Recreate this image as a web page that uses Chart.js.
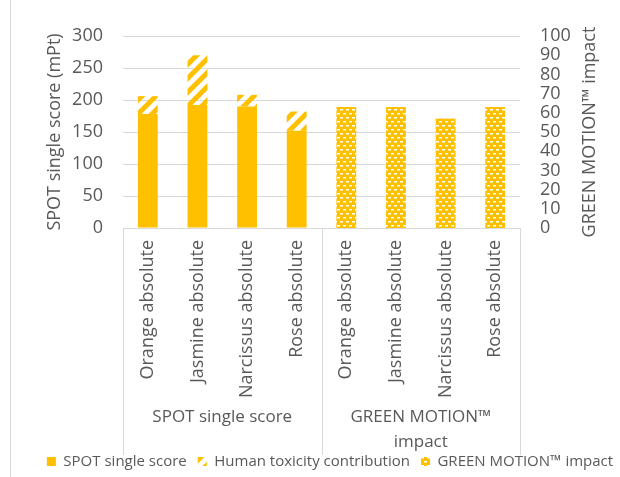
<!DOCTYPE html>
<html>
<head>
<meta charset="utf-8">
<script src="https://cdn.jsdelivr.net/npm/chart.js@4.4.1/dist/chart.umd.min.js"></script>
<style>
  html, body { margin: 0; padding: 0; background: #fff; }
  #wrap { position: relative; width: 620px; height: 477px; overflow: hidden; }
  #frame { position: absolute; left: 10px; top: 0; width: 1px; height: 477px; background: #d9d9d9; }
</style>
</head>
<body>
<div id="wrap">
  <div id="frame"></div>
  <canvas id="chart-area" width="620" height="477"></canvas>
</div>
<script>
// values
var categories = ['Orange absolute', 'Jasmine absolute', 'Narcissus absolute', 'Rose absolute',
                  'Orange absolute', 'Jasmine absolute', 'Narcissus absolute', 'Rose absolute'];
var groups = ['SPOT single score', ['GREEN MOTION\u2122', 'impact']];
var spotScore = [178, 192, 190, 152, null, null, null, null];
var humanToxicity = [28, 78, 18, 30, null, null, null, null];
var greenMotion = [null, null, null, null, 63, 63, 57, 63];
var spotTicks = [0, 50, 100, 150, 200, 250, 300];
var motionTicks = [0, 10, 20, 30, 40, 50, 60, 70, 80, 90, 100];

var GOLD = '#FFC000';
var TEXT = '#595959';
var GRID = '#d9d9d9';
var FONT = "'Open Sans', sans-serif";

Chart.defaults.font.family = FONT;
Chart.defaults.color = TEXT;

function stripePattern(color) {
  var s = 14, c = document.createElement('canvas');
  c.width = s; c.height = s;
  var g = c.getContext('2d');
  g.strokeStyle = color;
  g.lineWidth = 5;
  g.beginPath();
  g.moveTo(0, s); g.lineTo(s, 0);
  g.moveTo(-s / 2, s / 2); g.lineTo(s / 2, -s / 2);
  g.moveTo(s / 2, s * 1.5); g.lineTo(s * 1.5, s / 2);
  g.stroke();
  return g.createPattern(c, 'repeat');
}

function brickPattern(color) {
  var w = 6, h = 8, c = document.createElement('canvas');
  c.width = w; c.height = h;
  var g = c.getContext('2d');
  g.fillStyle = color;
  g.fillRect(0, 0, w, h);
  g.fillStyle = '#ffffff';
  g.fillRect(1, 1, 3, 1.5);
  g.fillRect(4, 5, 2, 1.5);
  g.fillRect(0, 5, 1, 1.5);
  return g.createPattern(c, 'repeat');
}

// boxes round the two-level category labels
var groupLines = {
  id: 'groupLines',
  afterDraw: function(chart) {
    var x = chart.scales.x, x2 = chart.scales.x2, ctx = chart.ctx;
    var mid = (x2.getPixelForTick(0) + x2.getPixelForTick(1)) / 2;
    var edges = [x.left, mid, x.right];
    ctx.save();
    ctx.strokeStyle = GRID;
    ctx.lineWidth = 1;
    edges.forEach(function(px) {
      var p = Math.round(px) + 0.5;
      ctx.beginPath();
      ctx.moveTo(p, x.top);
      ctx.lineTo(p, x2.bottom + 12);
      ctx.stroke();
    });
    ctx.restore();
  }
};

// right axis title reads bottom-to-top like the left one
var rightTitle = {
  id: 'rightTitle',
  afterDraw: function(chart) {
    var y1 = chart.scales.y1, ctx = chart.ctx;
    ctx.save();
    ctx.translate(y1.right - 40, (y1.top + y1.bottom) / 2);
    ctx.rotate(-Math.PI / 2);
    ctx.font = '18px ' + FONT;
    ctx.fillStyle = TEXT;
    ctx.textAlign = 'center';
    ctx.textBaseline = 'middle';
    ctx.fillText('GREEN MOTION\u2122 impact', 0, 0);
    ctx.restore();
  }
};

new Chart(document.getElementById('chart-area'), {
  type: 'bar',
  data: {
    labels: categories,
    datasets: [{
      label: 'SPOT single score',
      data: spotScore,
      backgroundColor: GOLD,
      yAxisID: 'y',
      stack: 'a'
    }, {
      label: 'Human toxicity contribution',
      data: humanToxicity,
      backgroundColor: stripePattern(GOLD),
      yAxisID: 'y',
      stack: 'a'
    }, {
      label: 'GREEN MOTION\u2122 impact',
      data: greenMotion,
      backgroundColor: brickPattern(GOLD),
      yAxisID: 'y1',
      stack: 'a'
    }]
  },
  options: {
    responsive: false,
    animation: false,
    categoryPercentage: 1,
    barPercentage: 0.4,
    layout: { padding: { left: 30, right: -10, top: 36, bottom: -2 } },
    plugins: {
      tooltip: { enabled: false },
      legend: {
        position: 'bottom',
        labels: {
          boxWidth: 9,
          boxHeight: 9,
          padding: 11,
          font: { size: 15 },
          color: TEXT
        }
      }
    },
    scales: {
      x: {
        stacked: true,
        grid: { display: false, drawTicks: false },
        border: { display: false },
        afterFit: function(axis) { axis.height = 174; },
        ticks: {
          autoSkip: false,
          minRotation: 90,
          maxRotation: 90,
          padding: 12,
          font: { size: 18 }
        }
      },
      x2: {
        type: 'category',
        labels: groups,
        position: 'bottom',
        offset: true,
        grid: { display: false, drawTicks: false },
        border: { display: false },
        afterFit: function(axis) {
          axis.height = 41;
          // let the second label line run past the axis box
          axis._computeLabelArea = function() { return undefined; };
        },
        ticks: {
          autoSkip: false,
          maxRotation: 0,
          padding: 3,
          font: { size: 17, lineHeight: 1.45 }
        }
      },
      y: {
        stacked: true,
        min: spotTicks[0],
        max: spotTicks[spotTicks.length - 1],
        afterBuildTicks: function(axis) {
          axis.ticks = spotTicks.map(function(v) { return { value: v }; });
        },
        afterFit: function(axis) { axis.width = 93; },
        grid: { color: GRID, drawTicks: false },
        border: { display: false },
        ticks: { autoSkip: false, padding: 20, font: { size: 18 } },
        title: {
          display: true,
          text: 'SPOT single score (mPt)',
          font: { size: 18 },
          padding: { top: 14, bottom: 6 }
        }
      },
      y1: {
        position: 'right',
        min: motionTicks[0],
        max: motionTicks[motionTicks.length - 1],
        afterBuildTicks: function(axis) {
          axis.ticks = motionTicks.map(function(v) { return { value: v }; });
        },
        afterFit: function(axis) { axis.width = 110; },
        grid: { display: false, drawTicks: false },
        border: { display: false },
        ticks: { autoSkip: false, padding: 20, font: { size: 18 } }
      }
    }
  },
  plugins: [groupLines, rightTitle]
});
</script>
</body>
</html>
